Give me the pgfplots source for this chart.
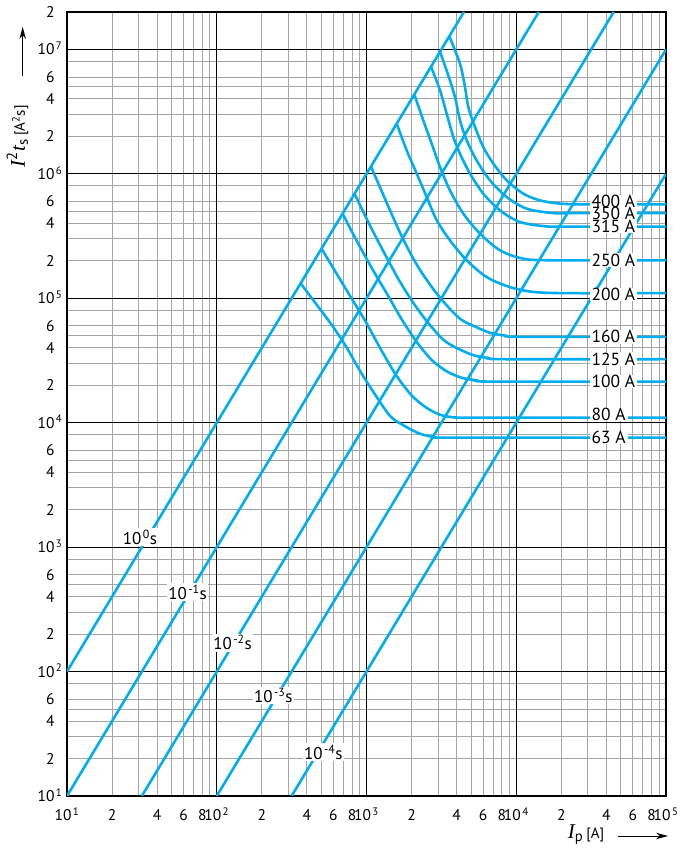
\documentclass[border=0pt]{standalone}
\usepackage{fontspec}
\setmainfont{PT Sans}
\newfontfamily\serif{Liberation Serif}
\usepackage{pgfplots}
\pgfplotsset{compat=1.18}
\usetikzlibrary{arrows.meta}
\definecolor{fuse}{RGB}{0,174,239}
\definecolor{minorgrid}{RGB}{165,165,165}

% tick label helpers
\newcommand{\xdec}[1]{10\kern1.5pt\textsuperscript{#1}}
\newcommand{\ydec}[1]{10\rlap{\kern1.5pt\textsuperscript{#1}}}
% current label: white box, then text on top
\newcommand{\boxat}[2]{\node[fill=white] at (axis cs:3.08e4,#2) {\phantom{#1}};}
\newcommand{\labat}[2]{\node at (axis cs:3.08e4,#2) {#1};}

\begin{document}
\begin{tikzpicture}
\begin{axis}[
  at={(0pt,0pt)}, anchor=south west,
  scale only axis, width=599pt, height=784pt,
  xmode=log, ymode=log,
  xmin=10, xmax=1e5, ymin=10, ymax=2e7,
  axis line style={black, line width=1.2pt},
  major tick length=0pt, minor tick length=0pt,
  xtick={10,20,40,60,80,100,200,400,600,800,1000,2000,4000,6000,8000,10000,20000,40000,60000,80000,100000},
  xticklabels={\xdec{1},2,4,6,8,\xdec{2},2,4,6,8,\xdec{3},2,4,6,8,\xdec{4},2,4,6,8,\xdec{5}},
  ytick={10,20,40,60,100,200,400,600,1000,2000,4000,6000,10000,20000,40000,60000,100000,200000,400000,600000,1000000,2000000,4000000,6000000,10000000,20000000},
  yticklabels={\ydec{1},2,4,6,\ydec{2},2,4,6,\ydec{3},2,4,6,\ydec{4},2,4,6,\ydec{5},2,4,6,\ydec{6},2,4,6,\ydec{7},2},
  minor xtick={20,30,40,50,60,70,80,90,200,300,400,500,600,700,800,900,2000,3000,4000,5000,6000,7000,8000,9000,20000,30000,40000,50000,60000,70000,80000,90000},
  minor ytick={20,30,40,50,60,80,200,300,400,500,600,800,2000,3000,4000,5000,6000,8000,20000,30000,40000,50000,60000,80000,200000,300000,400000,500000,600000,800000,2000000,3000000,4000000,5000000,6000000,8000000},
  xminorgrids=true, yminorgrids=true,
  minor grid style={minorgrid, line width=0.9pt},
  extra x ticks={100,1000,10000},
  extra y ticks={100,1000,10000,100000,1000000,10000000},
  extra x tick labels={}, extra y tick labels={},
  extra x tick style={grid=major}, extra y tick style={grid=major},
  major grid style={black, line width=1.1pt},
  tick label style={font=\fontsize{15.5}{16}\selectfont},
  xticklabel style={anchor=base, yshift=-25pt},
  yticklabel style={anchor=base east, xshift=-9pt, yshift=-5.5pt},
  fl/.style={fuse, line width=2.6pt},
]
% time lines I^2 t = const * I^2
\addplot[fl] coordinates {(10,100) (4472,2e7)};
\addplot[fl] coordinates {(10,10) (14142,2e7)};
\addplot[fl] coordinates {(31.62,10) (44721,2e7)};
\addplot[fl] coordinates {(100,10) (1e5,1e7)};
\addplot[fl] coordinates {(316.2,10) (1e5,1e6)};

% fuse curves, 63 A ... 400 A
\addplot[fl, smooth] coordinates {(363,1.32e5) (457,9.12e4) (575,6.31e4) (724,4.17e4) (912,2.57e4) (1150,1.66e4) (1450,1.12e4) (1820,9.33e3) (2290,8.13e3) (2880,7.66e3) (3630,7.59e3) (1e5,7.59e3)};
\addplot[fl, smooth] coordinates {(501,2.51e5) (631,1.58e5) (794,1.00e5) (1000,6.31e4) (1260,3.80e4) (1580,2.40e4) (2000,1.66e4) (2510,1.32e4) (3160,1.15e4) (3980,1.10e4) (5010,1.10e4) (1e5,1.10e4)};
\addplot[fl, smooth] coordinates {(692,4.79e5) (871,2.82e5) (1100,1.70e5) (1380,1.07e5) (1740,6.61e4) (2190,4.37e4) (2750,3.16e4) (3470,2.57e4) (4370,2.29e4) (5500,2.19e4) (6920,2.14e4) (1e5,2.14e4)};
\addplot[fl, smooth] coordinates {(832,6.92e5) (1050,3.89e5) (1320,2.29e5) (1660,1.38e5) (2090,8.91e4) (2630,6.17e4) (3310,4.57e4) (4170,3.89e4) (5250,3.47e4) (6610,3.31e4) (8320,3.24e4) (1e5,3.24e4)};
\addplot[fl, smooth] coordinates {(1070,1.15e6) (1350,6.03e5) (1700,3.24e5) (2140,1.91e5) (2690,1.26e5) (3390,8.91e4) (4270,6.76e4) (5370,5.89e4) (6760,5.25e4) (8510,5.01e4) (10700,4.90e4) (1e5,4.90e4)};
\addplot[fl, smooth] coordinates {(1591,2.53e6) (1855,1.545e6) (2164,1.005e6) (2523,6.52e5) (2943,4.24e5) (3611,2.92e5) (4668,2.02e5) (6349,1.48e5) (9085,1.23e5) (13000,1.125e5) (21730,1.10e5) (1e5,1.10e5)};
\addplot[fl, smooth] coordinates {(2085,4.35e6) (2395,2.69e6) (2725,1.75e6) (3097,1.135e6) (3611,7.36e5) (4430,4.79e5) (5727,3.31e5) (7789,2.43e5) (11145,2.08e5) (17677,2.02e5) (1e5,2.02e5)};
\addplot[fl, smooth] coordinates {(2696,7.27e6) (3097,4.69e6) (3432,3.04e6) (3799,1.98e6) (4211,1.45e6) (4912,1.005e6) (6026,6.93e5) (7789,5.09e5) (10593,4.10e5) (15973,3.78e5) (22000,3.77e5) (1e5,3.77e5)};
\addplot[fl, smooth] coordinates {(3096,9.585e6) (3518,6.18e6) (3899,4.14e6) (4211,2.69e6) (4668,1.86e6) (5444,1.28e6) (6679,8.87e5) (8634,6.52e5) (11744,5.25e5) (17677,4.84e5) (25000,4.84e5) (1e5,4.84e5)};
\addplot[fl, smooth] coordinates {(3572,1.276e7) (4211,7.67e6) (4548,4.98e6) (4784,3.44e6) (5303,2.38e6) (6026,1.64e6) (7026,1.21e6) (8634,8.87e5) (11145,6.93e5) (14408,6.12e5) (19597,5.77e5) (29512,5.69e5) (1e5,5.69e5)};

% time labels
\begin{scope}[every node/.style={fill=white, inner sep=1.5pt, font=\fontsize{17}{17}\selectfont}]
\node at (axis cs:30.7,1203) {10\kern1.5pt\textsuperscript{0}s};
\node at (axis cs:63.8,435) {10\kern1.5pt\textsuperscript{-1}s};
\node at (axis cs:127.4,171) {10\kern1.5pt\textsuperscript{-2}s};
\node at (axis cs:238.6,64.2) {10\kern1.5pt\textsuperscript{-3}s};
\node at (axis cs:514.6,22.4) {10\kern1.5pt\textsuperscript{-4}s};
\end{scope}

% current labels
\begin{scope}[every node/.style={anchor=west, inner xsep=2pt, inner ysep=0.5pt, font=\fontsize{17.5}{17.5}\selectfont}]
\boxat{400 A}{6.01e5}
\boxat{350 A}{4.84e5}
\boxat{315 A}{3.77e5}
\boxat{250 A}{2.02e5}
\boxat{200 A}{1.07e5}
\boxat{160 A}{4.90e4}
\boxat{125 A}{3.24e4}
\boxat{100 A}{2.14e4}
\boxat{80 A}{1.17e4}
\boxat{63 A}{7.59e3}
\labat{400 A}{6.01e5}
\labat{350 A}{4.84e5}
\labat{315 A}{3.77e5}
\labat{250 A}{2.02e5}
\labat{200 A}{1.07e5}
\labat{160 A}{4.90e4}
\labat{125 A}{3.24e4}
\labat{100 A}{2.14e4}
\labat{80 A}{1.17e4}
\labat{63 A}{7.59e3}
\end{scope}
\end{axis}

% axis titles with arrows
\node[rotate=90] at (-49.5pt,659.5pt) {\fontsize{21}{21}\selectfont{\serif\itshape I}\textsuperscript{2}\kern1pt{\serif\itshape t}\textsubscript{s}\kern3pt{\fontsize{15}{15}\selectfont[A\textsuperscript{2}s]}};
\draw[line width=1pt, -{Stealth[length=12pt, width=6.5pt]}] (-44.3pt,720pt) -- (-44.3pt,769pt);
\node at (519pt,-39pt) {\fontsize{21}{21}\selectfont{\serif\itshape I}\textsubscript{p}\kern3pt{\fontsize{15}{15}\selectfont[A]}};
\draw[line width=1pt, -{Stealth[length=12pt, width=6.5pt]}] (551pt,-40pt) -- (601pt,-40pt);

\pgfresetboundingbox
\path[use as bounding box] (-67pt,-54pt) rectangle (624pt,796pt);
\end{tikzpicture}
\end{document}
